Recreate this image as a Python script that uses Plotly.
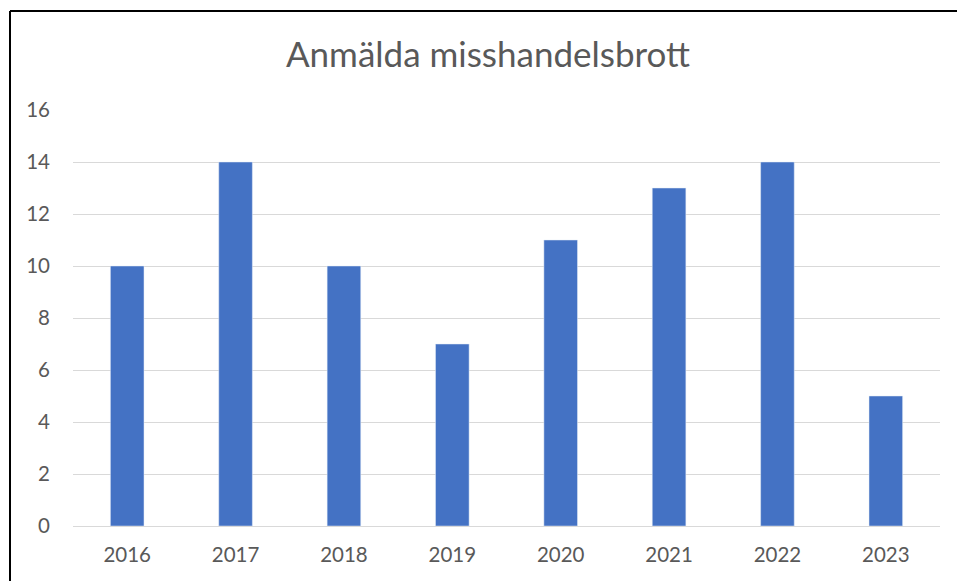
import plotly.graph_objects as go

years = ["2016", "2017", "2018", "2019", "2020", "2021", "2022", "2023"]
reports = [10, 14, 10, 7, 11, 13, 14, 5]
y_ticks = [0, 2, 4, 6, 8, 10, 12, 14, 16]

W, H = 957, 581
L, R, T, B = 73, 17, 110, 55
pw, ph = W - L - R, H - T - B

fig = go.Figure()
fig.add_trace(
    go.Bar(
        x=years,
        y=reports,
        marker_color="#4472C4",
        width=0.31,
        name="Anmälda misshandelsbrott",
    )
)

# black frame (top + left only, like the cropped screenshot)
bx = (10 - L) / pw
by = 1 + (T - 11) / ph
fig.add_shape(type="line", xref="paper", yref="paper",
              x0=bx, y0=by, x1=1 + R / pw + 0.01, y1=by,
              line=dict(color="black", width=2))
fig.add_shape(type="line", xref="paper", yref="paper",
              x0=bx, y0=by, x1=bx, y1=-B / ph - 0.01,
              line=dict(color="black", width=2))

fig.update_layout(
    width=W,
    height=H,
    margin=dict(l=L, r=R, t=T, b=B),
    plot_bgcolor="white",
    paper_bgcolor="white",
    showlegend=False,
    font=dict(family="Lato, Open Sans, sans-serif", size=20, color="#595959"),
    title=dict(
        text="Anmälda misshandelsbrott",
        x=488 / W,
        xanchor="center",
        y=1 - 55 / H,
        yanchor="middle",
        font=dict(size=35, color="#595959"),
    ),
)
fig.update_xaxes(showline=False, ticks="", tickfont=dict(size=20.5),
                 ticklabelstandoff=14)
fig.update_yaxes(
    range=[0, 16],
    tickvals=y_ticks,
    showgrid=True,
    gridcolor="#D9D9D9",
    gridwidth=1,
    zeroline=True,
    zerolinecolor="#D9D9D9",
    zerolinewidth=1,
    ticks="",
    ticklabelstandoff=22,
    tickfont=dict(size=20.5),
)

# page has a default 8px body margin; drop it so the chart sits at 0,0
fig.write_html("out.html", config={"displayModeBar": False},
               post_script="document.body.style.margin='0';")
